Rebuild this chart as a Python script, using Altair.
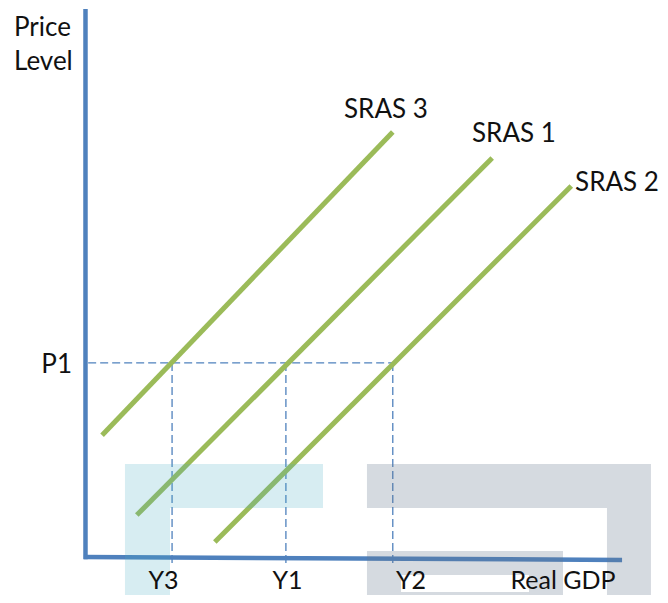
import altair as alt
import pandas as pd

# ---- data (economic units: Real GDP on x, Price Level on y) ----
curve_names = ["SRAS 3", "SRAS 1", "SRAS 2"]
curve_x_start = [2.6, 9.1, 23.7]
curve_y_start = [22.4, 7.7, 2.75]
curve_x_end = [57.0, 75.6, 90.4]
curve_y_end = [78.2, 73.4, 68.25]

price_label = "P1"
price_value = 35.7
output_labels = ["Y3", "Y1", "Y2"]
output_values = [15.7, 37.0, 57.0]

# decorative background block shapes [x, x2, y, y2]
blue_blocks = [[6.89, 43.94, 17.10, 9.01], [6.89, 15.31, 9.01, -7.0]]
gray_blocks = [[52.17, 105.31, 17.10, 9.01], [97.08, 105.31, 9.01, -7.0],
               [52.17, 88.85, 1.10, -3.32], [52.17, 58.54, -3.32, -7.0],
               [82.49, 88.85, -3.32, -7.0], [58.54, 82.49, -6.45, -7.0]]

X_DOM = [-15, 107]
Y_DOM = [-7, 101]
FONT = "Lato"
FS = 26
FS_BOTTOM = 25
AXIS_BLUE = "#4f81bd"
GREEN = "#9bbb59"
INK = "#111111"

def xs(field):
    return alt.X(field, type="quantitative", scale=alt.Scale(domain=X_DOM, nice=False, zero=False), axis=None)

def ys(field):
    return alt.Y(field, type="quantitative", scale=alt.Scale(domain=Y_DOM, nice=False, zero=False), axis=None)

curves = pd.DataFrame({"name": curve_names, "x": curve_x_start, "y": curve_y_start,
                       "x2": curve_x_end, "y2": curve_y_end})

axes_df = pd.DataFrame({"x": [-0.5, -0.8], "y": [-0.4, 0.0], "x2": [-0.5, 99.9], "y2": [100.8, -0.55]})

guides = pd.DataFrame({
    "x": [0.0] + output_values,
    "y": [price_value] + [price_value] * 3,
    "x2": [max(output_values)] + output_values,
    "y2": [price_value] + [-1.66] * 3,
})

blue_df = pd.DataFrame(blue_blocks, columns=["x", "x2", "y", "y2"])
gray_df = pd.DataFrame(gray_blocks, columns=["x", "x2", "y", "y2"])

left_labels = pd.DataFrame({
    "t": ["Price", "Level"] + curve_names[:2],
    "x": [-13.88, -13.88, 47.87, 71.82],
    "y": [95.85, 89.59, 80.76, 76.35],
})
center_labels = pd.DataFrame({
    "t": output_labels + ["Real GDP"],
    "x": [14.10, 37.30, 60.41, 88.85],
    "y": [-5.9, -5.9, -5.9, -5.9],
})
right_labels = pd.DataFrame({"t": [price_label, curve_names[2]], "x": [-3.02, 106.8], "y": [33.83, 67.33]})

guide_layer = alt.Chart(guides).mark_rule(color=AXIS_BLUE, strokeWidth=1.3, strokeDash=[8, 4]).encode(
    x=xs("x"), y=ys("y"), x2="x2", y2="y2")
curve_layer = alt.Chart(curves).mark_rule(color=GREEN, strokeWidth=5, strokeCap="butt").encode(
    x=xs("x"), y=ys("y"), x2="x2", y2="y2")
axis_layer = alt.Chart(axes_df).mark_rule(color=AXIS_BLUE, strokeWidth=4.5, strokeCap="butt").encode(
    x=xs("x"), y=ys("y"), x2="x2", y2="y2")
blue_layer = alt.Chart(blue_df).mark_rect(color="#4bacc6", opacity=0.22).encode(
    x=xs("x"), x2="x2", y=ys("y"), y2="y2")
gray_layer = alt.Chart(gray_df).mark_rect(color="#64788c", opacity=0.27).encode(
    x=xs("x"), x2="x2", y=ys("y"), y2="y2")
text_left = alt.Chart(left_labels).mark_text(align="left", baseline="alphabetic", font=FONT, fontSize=FS, color=INK).encode(
    x=xs("x"), y=ys("y"), text="t")
text_center = alt.Chart(center_labels).mark_text(align="center", baseline="alphabetic", font=FONT, fontSize=FS_BOTTOM, color=INK).encode(
    x=xs("x"), y=ys("y"), text="t")
text_right = alt.Chart(right_labels).mark_text(align="right", baseline="alphabetic", font=FONT, fontSize=FS, color=INK).encode(
    x=xs("x"), y=ys("y"), text="t")

chart = alt.layer(guide_layer, curve_layer, axis_layer, blue_layer, gray_layer,
                  text_left, text_center, text_right).properties(
    width=652, height=587, padding=0, autosize=alt.AutoSizeParams(type="none"),
    background="white",
).configure_view(stroke=None)

chart.save("out.html", embed_options={"renderer": "svg", "actions": False})
